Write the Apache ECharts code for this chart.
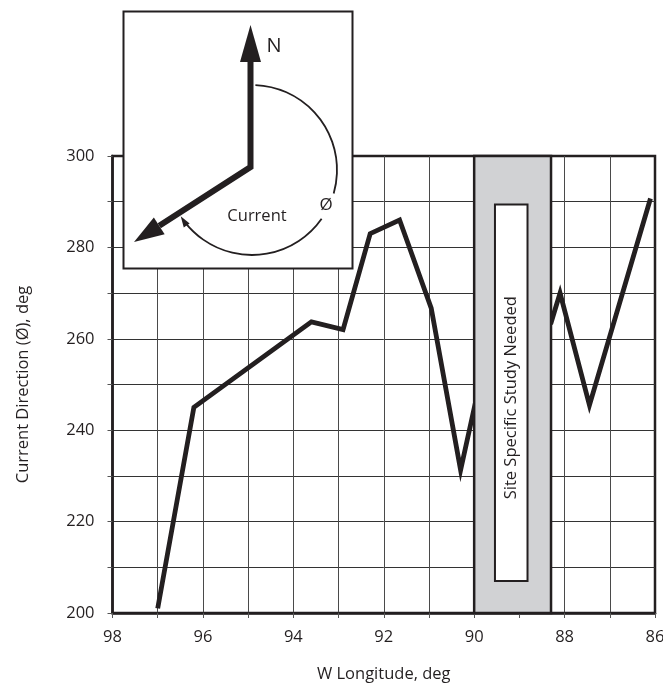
<!DOCTYPE html>
<html>
<head>
<meta charset="utf-8">
<script src="https://cdn.jsdelivr.net/npm/echarts@6/dist/echarts.min.js"></script>
<style>
html,body{margin:0;padding:0;background:#fff;}
#c{width:663px;height:684px;}
</style>
</head>
<body>
<div id="c"></div>
<script>
// Data
const longitude = [97.0, 96.2, 93.6, 92.9, 92.3, 91.65, 90.95, 90.3, 89.9, 88.3, 88.1, 87.45, 86.1];
const direction = [201, 245, 263.7, 262, 283, 286, 266.7, 231.3, 249.3, 263.5, 270, 245.5, 290.7];
const xTicks = [98, 96, 94, 92, 90, 88, 86];
const yTicks = [200, 220, 240, 260, 280, 300];
const bandLon = [90, 88.3];
const boxLon = [89.54, 88.82];
const boxDir = [207, 289.4];
const bandText = 'Site Specific Study Needed';

const FONT = 'Open Sans';
const INK = '#231f20';
const FS = 16.5;

const chart = echarts.init(document.getElementById('c'));

function arcArrow(cx, cy, r, angDeg, len, hw) {
  const a = angDeg * Math.PI / 180;
  const tx = cx + r * Math.cos(a), ty = cy + r * Math.sin(a);
  const dx = -Math.sin(a), dy = Math.cos(a);
  const bx = tx - dx * len, by = ty - dy * len;
  return [[tx, ty], [bx - dy * hw, by + dx * hw], [bx + dy * hw, by - dx * hw]];
}

const cx = 251, cy = 167;
const tip = [134, 242];
const ux = (tip[0] - cx), uy = (tip[1] - cy);
const ul = Math.sqrt(ux * ux + uy * uy);
const nx = ux / ul, ny = uy / ul;
const headLen = 30, headHW = 10;
const base = [tip[0] - nx * headLen, tip[1] - ny * headLen];
const barb1 = [base[0] - ny * headHW, base[1] + nx * headHW];
const barb2 = [base[0] + ny * headHW, base[1] - nx * headHW];

const arcC = [252, 170], arcR = 85;

const option = {
  animation: false,
  backgroundColor: '#fff',
  grid: {
    left: 112.5, right: 8, top: 156, bottom: 71,
    outerBoundsMode: 'none', containLabel: false,
    show: true, borderColor: INK, borderWidth: 2.5, backgroundColor: 'transparent'
  },
  xAxis: {
    type: 'value', inverse: true, min: 86, max: 98, interval: 1,
    name: 'W Longitude, deg', nameLocation: 'middle', nameGap: 53,
    nameTextStyle: { fontFamily: FONT, fontSize: FS, color: INK },
    axisLine: { show: true, lineStyle: { color: INK, width: 2.5 } },
    axisTick: { show: true, length: 5, lineStyle: { color: '#555', width: 1 } },
    axisLabel: {
      fontFamily: FONT, fontSize: FS, color: INK, margin: 16,
      formatter: v => xTicks.indexOf(v) >= 0 ? String(v) : ''
    },
    splitLine: { show: true, showMinLine: false, showMaxLine: false, lineStyle: { color: '#4a4a4a', width: 1 } }
  },
  yAxis: {
    type: 'value', min: 200, max: 300, interval: 10,
    name: 'Current Direction (Ø), deg', nameLocation: 'middle', nameGap: 81,
    nameTextStyle: { fontFamily: FONT, fontSize: FS, color: INK },
    axisLine: { show: true, lineStyle: { color: INK, width: 2.5 } },
    axisTick: { show: true, length: 5, lineStyle: { color: '#555', width: 1 } },
    axisLabel: {
      fontFamily: FONT, fontSize: FS, color: INK, margin: 18,
      formatter: v => yTicks.indexOf(v) >= 0 ? String(v) : ''
    },
    splitLine: { show: true, showMinLine: false, showMaxLine: false, lineStyle: { color: '#333', width: 1 } }
  },
  series: [
    {
      type: 'line', z: 3,
      data: longitude.map((x, i) => [x, direction[i]]),
      showSymbol: false, symbol: 'none',
      lineStyle: { color: INK, width: 4.8, join: 'miter' }
    },
    {
      type: 'custom', z: 6,
      data: [[0]],
      renderItem: function (params, api) {
        const b0 = api.coord([bandLon[0], 300]);
        const b1 = api.coord([bandLon[1], 200]);
        const w0 = api.coord([boxLon[0], boxDir[1]]);
        const w1 = api.coord([boxLon[1], boxDir[0]]);
        return {
          type: 'group',
          children: [
            { type: 'rect', shape: { x: b0[0], y: b0[1], width: b1[0] - b0[0], height: b1[1] - b0[1] },
              style: { fill: '#d1d2d4', stroke: INK, lineWidth: 2.5 } },
            { type: 'rect', shape: { x: w0[0], y: w0[1], width: w1[0] - w0[0], height: w1[1] - w0[1] },
              style: { fill: '#fff', stroke: INK, lineWidth: 2 } },
            { type: 'text', x: (w0[0] + w1[0]) / 2, y: (w0[1] + w1[1]) / 2 + 5, rotation: Math.PI / 2,
              style: { text: bandText, fontFamily: FONT, fontSize: FS, fill: INK, align: 'center', verticalAlign: 'middle' } }
          ]
        };
      }
    }
  ],
  graphic: [
    { type: 'rect', z: 100, shape: { x: 123.5, y: 11.5, width: 229, height: 257 },
      style: { fill: '#fff', stroke: INK, lineWidth: 2 } },
    { type: 'polyline', z: 101, shape: { points: [[250.5, 58], [250.5, 167], base] },
      style: { stroke: INK, lineWidth: 6, fill: null, lineJoin: 'miter' } },
    { type: 'polygon', z: 101, shape: { points: [[250.5, 25], [240, 62], [261, 62]] },
      style: { fill: INK } },
    { type: 'polygon', z: 101, shape: { points: [tip, barb1, barb2] },
      style: { fill: INK } },
    { type: 'text', z: 101, x: 274, y: 46,
      style: { text: 'N', fontFamily: FONT, fontSize: 20, fill: INK, align: 'center', verticalAlign: 'middle' } },
    { type: 'arc', z: 101, shape: { cx: arcC[0], cy: arcC[1], r: arcR, startAngle: -Math.PI / 2 + 0.04, endAngle: 16 * Math.PI / 180, clockwise: true },
      style: { stroke: INK, lineWidth: 1.8, fill: null } },
    { type: 'arc', z: 101, shape: { cx: arcC[0], cy: arcC[1], r: arcR, startAngle: 35 * Math.PI / 180, endAngle: 142 * Math.PI / 180, clockwise: true },
      style: { stroke: INK, lineWidth: 1.8, fill: null } },
    { type: 'polygon', z: 101, shape: { points: arcArrow(arcC[0], arcC[1], arcR, 147, 11, 3.5) },
      style: { fill: INK } },
    { type: 'text', z: 101, x: 326, y: 205,
      style: { text: 'Ø', fontFamily: FONT, fontSize: 17, fill: INK, align: 'center', verticalAlign: 'middle' } },
    { type: 'text', z: 101, x: 257, y: 216,
      style: { text: 'Current', fontFamily: FONT, fontSize: 16.5, fill: INK, align: 'center', verticalAlign: 'middle' } }
  ]
};
chart.setOption(option);
</script>
</body>
</html>
